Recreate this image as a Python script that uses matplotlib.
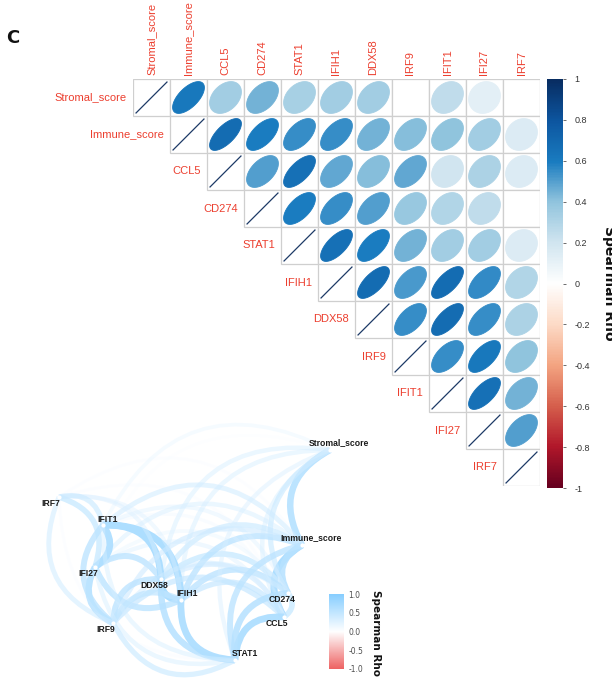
import numpy as np
import matplotlib
matplotlib.use("Agg")
import matplotlib.pyplot as plt
from matplotlib.colors import LinearSegmentedColormap, to_rgb
from matplotlib.patches import Polygon, Rectangle, FancyArrowPatch

nan = np.nan

# ---------------------------------------------------------------- data
variables = ["Stromal_score", "Immune_score", "CCL5", "CD274", "STAT1",
             "IFIH1", "DDX58", "IRF9", "IFIT1", "IFI27", "IRF7"]

# Spearman rho, upper triangle row by row (NaN = not significant, left blank)
rho_stromal = [0.62, 0.35, 0.45, 0.33, 0.35, 0.35, nan, 0.25, 0.12, nan]
rho_immune = [0.68, 0.60, 0.55, 0.55, 0.45, 0.42, 0.40, 0.35, 0.15]
rho_ccl5 = [0.50, 0.66, 0.48, 0.42, 0.48, 0.20, 0.32, 0.15]
rho_cd274 = [0.60, 0.55, 0.50, 0.38, 0.30, 0.25, nan]
rho_stat1 = [0.66, 0.60, 0.45, 0.35, 0.35, 0.15]
rho_ifih1 = [0.68, 0.52, 0.68, 0.56, 0.30]
rho_ddx58 = [0.55, 0.68, 0.55, 0.32]
rho_irf9 = [0.55, 0.62, 0.40]
rho_ifit1 = [0.66, 0.45]
rho_ifi27 = [0.50]

upper_rows = [rho_stromal, rho_immune, rho_ccl5, rho_cd274, rho_stat1,
              rho_ifih1, rho_ddx58, rho_irf9, rho_ifit1, rho_ifi27]

cbar_ticks = [1, 0.8, 0.6, 0.4, 0.2, 0, -0.2, -0.4, -0.6, -0.8, -1]
cbar_ticklabels = ["1", "0.8", "0.6", "0.4", "0.2", "0", "-0.2", "-0.4",
                   "-0.6", "-0.8", "-1"]

# network: variable order of the correlation table and MDS layout
net_order = ["Stromal_score", "Immune_score", "CCL5", "CD274", "DDX58",
             "IFI27", "IFIH1", "IFIT1", "IRF7", "IRF9", "STAT1"]
mds_x = [1.30, 1.02, 0.84, 0.88, -0.39, -1.05, -0.19, -0.97, -1.41, -0.87, 0.35]
mds_y = [1.10, 0.15, -0.57, -0.33, -0.19, -0.07, -0.40, 0.35, 0.63, -0.63, -1.00]

net_ticks = [1.0, 0.5, 0.0, -0.5, -1.0]
net_ticklabels = ["1.0", "0.5", "0.0", "-0.5", "-1.0"]

# ---------------------------------------------------------------- matrix
n = len(variables)
R = np.eye(n)
for i, row in enumerate(upper_rows):
    for k, v in enumerate(row):
        j = i + 1 + k
        R[i, j] = R[j, i] = v

# ---------------------------------------------------------------- figure
W, H = 612, 679
fig = plt.figure(figsize=(W / 100, H / 100), dpi=100)
fig.patch.set_facecolor("white")


def rect(x0, y0, x1, y1):
    """Figure-fraction rectangle from pixel box (top-left origin)."""
    return [x0 / W, 1 - y1 / H, (x1 - x0) / W, (y1 - y0) / H]


corr_cmap = LinearSegmentedColormap.from_list(
    "corr_rdbu",
    [(0.0, "#67001F"), (0.1, "#B2182B"), (0.2, "#D6604D"), (0.3, "#F4A582"),
     (0.4, "#FDDBC7"), (0.5, "#FFFFFF"), (0.6, "#D1E5F0"), (0.7, "#92C5DE"),
     (0.8, "#1A7CC0"), (0.9, "#0D56A0"), (1.0, "#082D62")])


def ccol(r):
    return corr_cmap((r + 1) / 2)


# ---- corrplot (upper triangle, ellipses)
ax = fig.add_axes(rect(133, 79, 540, 486))
ax.set_xlim(-0.5, n - 0.5)
ax.set_ylim(n - 0.5, -0.5)
ax.axis("off")

label_red = "#ec3f2f"
a = 0.43
t = np.linspace(0, 2 * np.pi, 120)
for i in range(n):
    for j in range(i, n):
        ax.add_patch(Rectangle((j - 0.5, i - 0.5), 1, 1, facecolor="white",
                               edgecolor="#cfcfcf", lw=0.9, zorder=1))
        r = R[i, j]
        if i == j:
            ax.plot([j - a, j + a], [i + a, i - a], color="#1d3a66", lw=0.9,
                    zorder=3, solid_capstyle="butt")
            continue
        if np.isnan(r):
            continue
        d = np.arccos(r)
        ex = j + a * np.cos(t + d / 2)
        ey = i - a * np.cos(t - d / 2)
        ax.add_patch(Polygon(np.column_stack([ex, ey]), closed=True,
                             facecolor=ccol(r), edgecolor=ccol(r), lw=0.6,
                             zorder=2))

for k, name in enumerate(variables):
    ax.text(k, -0.62, name, rotation=90, ha="center", va="bottom",
            color=label_red, fontsize=8, family="Liberation Sans")
    ax.text(k - 0.66, k, name, ha="right", va="center",
            color=label_red, fontsize=8, family="Liberation Sans")

# ---- corrplot colour bar
cax = fig.add_axes(rect(547, 79, 563, 488))
grad = np.linspace(-1, 1, 400)[:, None]
cax.imshow(grad, cmap=corr_cmap, vmin=-1, vmax=1, aspect="auto",
           origin="lower", extent=(0, 1, -1, 1))
cax.set_xlim(0, 1)
cax.set_ylim(-1, 1)
cax.set_xticks([])
cax.yaxis.tick_right()
cax.set_yticks(cbar_ticks)
cax.set_yticklabels(cbar_ticklabels)
cax.tick_params(axis="y", length=2.5, width=0.6, color="#555555",
                pad=6, labelsize=6.5, labelcolor="#333333")
for lab in cax.get_yticklabels():
    lab.set_family("Liberation Sans")
for s in cax.spines.values():
    s.set_visible(False)

fig.text(609 / W, 1 - 283 / H, "Spearman Rho", rotation=-90, ha="center",
         va="center", fontsize=10, weight="bold", color="#111111")

fig.text(13 / W, 1 - 38 / H, "C", ha="center", va="center", fontsize=13,
         weight="bold", color="#111111")

# ---- correlation network
nax = fig.add_axes(rect(0, 410, 420, 679))
nax.set_xlim(-2.0, 2.2)
nax.set_ylim(-1.19, 1.5)
nax.axis("off")
nax.patch.set_alpha(0)

sky = np.array(to_rgb("#87CEFF"))
red = np.array(to_rgb("#EE6363"))
white = np.ones(3)


def ncol(r):
    base = sky if r >= 0 else red
    return tuple(white + (base - white) * min(abs(r), 1))


idx = {v: k for k, v in enumerate(variables)}
edges = []
m = len(net_order)
for row in range(m):
    for col in range(row):
        r = R[idx[net_order[row]], idx[net_order[col]]]
        if np.isnan(r):
            continue
        edges.append((col, row, r))

absr = np.array([abs(e[2]) for e in edges])
lo, hi = absr.min(), absr.max()
for col, row, r in edges:
    f = (abs(r) - lo) / (hi - lo)
    patch = FancyArrowPatch(posA=(mds_x[col], mds_y[col]),
                            posB=(mds_x[row], mds_y[row]),
                            connectionstyle="arc3,rad=0.5", arrowstyle="-",
                            shrinkA=0, shrinkB=0, color=ncol(r),
                            alpha=0.1 + 0.9 * f, lw=2.0 + 3.0 * f,
                            capstyle="butt", zorder=2)
    nax.add_patch(patch)

nax.scatter(mds_x, mds_y, s=9, color="white", zorder=4, linewidths=0)

# label placement (pixel offsets from each node)
label_offsets = {
    "Stromal_score": (9, 7), "Immune_score": (9, 7), "CD274": (-6, -6),
    "CCL5": (-7, -7), "STAT1": (10, 6), "IFIH1": (6, 6), "DDX58": (-7, -6),
    "IRF9": (-7, -6), "IFI27": (-7, -6), "IFIT1": (5, 6), "IRF7": (-8, -7),
}
for name, x, y in zip(net_order, mds_x, mds_y):
    dx, dy = label_offsets[name]
    nax.annotate(name, (x, y), xytext=(dx, dy), textcoords="offset pixels",
                 ha="center", va="center", fontsize=6.2, weight="bold",
                 family="Liberation Sans", color="#1a1a1a", zorder=5)

# ---- network colour bar
net_cmap = LinearSegmentedColormap.from_list(
    "net", [(0.0, "#EE6363"), (0.5, "#FFFFFF"), (1.0, "#87CEFF")])
lax = fig.add_axes(rect(329, 594, 344, 669))
lax.imshow(np.linspace(-1, 1, 300)[:, None], cmap=net_cmap, vmin=-1, vmax=1,
           aspect="auto", origin="lower", extent=(0, 1, -1, 1))
lax.set_xlim(0, 1)
lax.set_ylim(-1, 1)
lax.set_xticks([])
lax.yaxis.tick_right()
lax.set_yticks(net_ticks)
lax.set_yticklabels(net_ticklabels)
lax.tick_params(axis="y", length=0, pad=3, labelsize=5.5, labelcolor="#4d4d4d")
for s in lax.spines.values():
    s.set_visible(False)

fig.text(376 / W, 1 - 633 / H, "Spearman Rho", rotation=-90, ha="center",
         va="center", fontsize=7.5, weight="bold", color="#111111")

fig.savefig("out.png", dpi=100)
